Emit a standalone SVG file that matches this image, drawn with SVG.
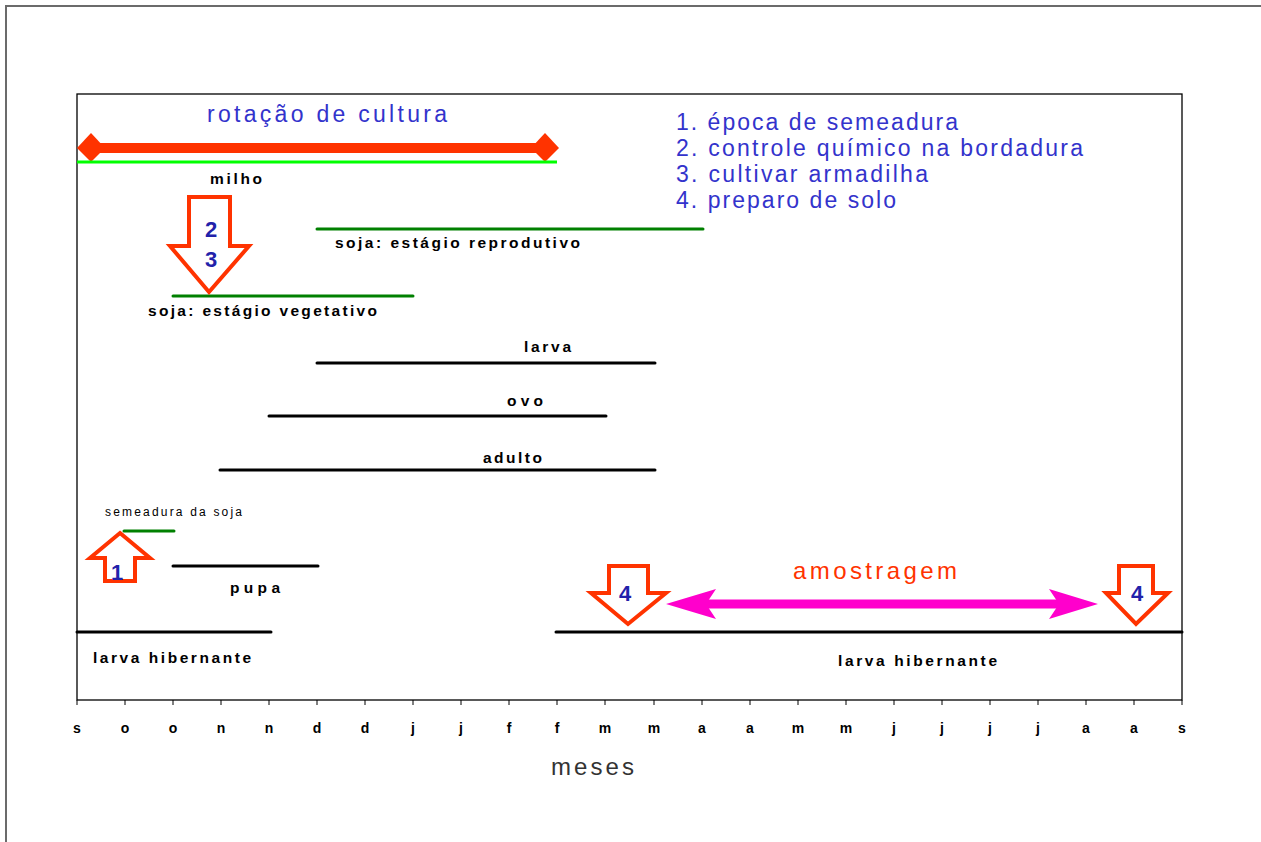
<svg xmlns="http://www.w3.org/2000/svg" width="1261" height="842" viewBox="0 0 1261 842">
<style>
.lbl{font-family:"Liberation Sans",Arial,sans-serif;font-weight:bold;font-size:15.5px;fill:#000}
.ax{font-family:"Liberation Sans",Arial,sans-serif;font-weight:bold;font-size:14px;fill:#000;text-anchor:middle}
.blue{font-family:"Liberation Sans",Arial,sans-serif;font-size:23px;fill:#3333CC}
.num{font-family:"Liberation Sans",Arial,sans-serif;font-weight:bold;font-size:22px;fill:#2222AA;text-anchor:middle}
.blk{stroke:#000;stroke-width:3;stroke-linecap:round}
.grn{stroke:#008000;stroke-width:3;stroke-linecap:round}
.arr{fill:#fff;stroke:#FF3300;stroke-width:4;stroke-linejoin:miter}
</style>
<rect x="0" y="0" width="1261" height="842" fill="#fff"/>
<g id="frame">
<path d="M6,842 V6 H1261" fill="none" stroke="#6b6b6b" stroke-width="2"/>
<rect x="77" y="94" width="1105" height="606" fill="none" stroke="#000" stroke-width="1.3"/>
</g>
<g id="axis">
<path d="M77,700 v5 M125,700 v5 M173,700 v5 M221,700 v5 M269,700 v5 M317,700 v5 M365,700 v5 M413,700 v5 M461,700 v5 M509,700 v5 M557,700 v5 M605,700 v5 M654,700 v5 M702,700 v5 M750,700 v5 M798,700 v5 M846,700 v5 M894,700 v5 M942,700 v5 M990,700 v5 M1038,700 v5 M1086,700 v5 M1134,700 v5 M1182,700 v5" stroke="#000" stroke-width="1"/>
<text class="ax" x="77" y="733">s</text>
<text class="ax" x="125" y="733">o</text>
<text class="ax" x="173" y="733">o</text>
<text class="ax" x="221" y="733">n</text>
<text class="ax" x="269" y="733">n</text>
<text class="ax" x="317" y="733">d</text>
<text class="ax" x="365" y="733">d</text>
<text class="ax" x="413" y="733">j</text>
<text class="ax" x="461" y="733">j</text>
<text class="ax" x="509" y="733">f</text>
<text class="ax" x="557" y="733">f</text>
<text class="ax" x="605" y="733">m</text>
<text class="ax" x="654" y="733">m</text>
<text class="ax" x="702" y="733">a</text>
<text class="ax" x="750" y="733">a</text>
<text class="ax" x="798" y="733">m</text>
<text class="ax" x="846" y="733">m</text>
<text class="ax" x="894" y="733">j</text>
<text class="ax" x="942" y="733">j</text>
<text class="ax" x="990" y="733">j</text>
<text class="ax" x="1038" y="733">j</text>
<text class="ax" x="1086" y="733">a</text>
<text class="ax" x="1134" y="733">a</text>
<text class="ax" x="1182" y="733">s</text>
<text x="551" y="775" font-family="Liberation Sans, Arial, sans-serif" font-size="24" fill="#333" textLength="83" lengthAdjust="spacing">meses</text>
</g>
<g id="rotacao">
<text class="blue" x="207" y="122" font-size="24" textLength="240" lengthAdjust="spacing">rotação de cultura</text>
<line x1="91" y1="148" x2="545" y2="148" stroke="#FF3300" stroke-width="10"/>
<polygon points="77,148 91,133 105,148 91,162" fill="#FF3300"/>
<polygon points="531,148 545,133 559,148 545,162" fill="#FF3300"/>
</g>
<g id="legend">
<text class="blue" x="676" y="130" textLength="282" lengthAdjust="spacing">1. época de semeadura</text>
<text class="blue" x="676" y="156" textLength="407" lengthAdjust="spacing">2. controle químico na bordadura</text>
<text class="blue" x="676" y="182" textLength="252" lengthAdjust="spacing">3. cultivar armadilha</text>
<text class="blue" x="676" y="208" textLength="220" lengthAdjust="spacing">4. preparo de solo</text>
</g>
<g id="connectors">
<line x1="77" y1="162" x2="557" y2="162" stroke="#00FF00" stroke-width="3"/>
<line class="grn" x1="317" y1="229" x2="703" y2="229"/>
<line class="grn" x1="173" y1="296" x2="413" y2="296"/>
<line class="blk" x1="317" y1="363" x2="655" y2="363"/>
<line class="blk" x1="269" y1="416" x2="606" y2="416"/>
<line class="blk" x1="220" y1="470" x2="655" y2="470"/>
<line class="grn" x1="124" y1="531" x2="174" y2="531"/>
<line class="blk" x1="173" y1="566" x2="318" y2="566"/>
<line class="blk" x1="77" y1="632" x2="271" y2="632"/>
<line class="blk" x1="556" y1="632" x2="1182" y2="632"/>
</g>
<g id="milho"><text class="lbl" x="210" y="184" textLength="52" lengthAdjust="spacing">milho</text></g>
<g id="soja-reprodutivo"><text class="lbl" x="335" y="248" textLength="245" lengthAdjust="spacing">soja: estágio reprodutivo</text></g>
<g id="soja-vegetativo"><text class="lbl" x="148" y="316" textLength="229" lengthAdjust="spacing">soja: estágio vegetativo</text></g>
<g id="larva"><text class="lbl" x="524" y="352" textLength="47" lengthAdjust="spacing">larva</text></g>
<g id="ovo"><text class="lbl" x="507" y="406" textLength="36" lengthAdjust="spacing">ovo</text></g>
<g id="adulto"><text class="lbl" x="483" y="463" textLength="59" lengthAdjust="spacing">adulto</text></g>
<g id="semeadura"><text x="105" y="516" font-family="Liberation Sans, Arial, sans-serif" font-size="12" fill="#000" textLength="137" lengthAdjust="spacing">semeadura da soja</text></g>
<g id="pupa"><text class="lbl" x="230" y="593" textLength="50" lengthAdjust="spacing">pupa</text></g>
<g id="larva-hib-1"><text class="lbl" x="93" y="663" textLength="158" lengthAdjust="spacing">larva hibernante</text></g>
<g id="larva-hib-2"><text class="lbl" x="838" y="666" textLength="159" lengthAdjust="spacing">larva hibernante</text></g>
<g id="arrow-23">
<polygon class="arr" points="189,197 230,197 230,246 249,246 209,292 170,246 189,246"/>
<text class="num" x="211" y="237">2</text>
<text class="num" x="211" y="267">3</text>
</g>
<g id="arrow-1">
<polygon class="arr" points="120,533 150,558 135,558 135,581 105,581 105,558 90,558"/>
<text class="num" x="117" y="580">1</text>
</g>
<g id="arrow-4a">
<polygon class="arr" points="609,566 648,566 648,593 666,593 628,624 591,593 609,593"/>
<text class="num" x="625" y="601">4</text>
</g>
<g id="arrow-4b">
<polygon class="arr" points="1119,566 1153,566 1153,593 1168,593 1136,624 1106,593 1119,593"/>
<text class="num" x="1137" y="601">4</text>
</g>
<g id="amostragem">
<text x="793" y="579" font-family="Liberation Sans, Arial, sans-serif" font-size="24" fill="#FF3300" textLength="164" lengthAdjust="spacing">amostragem</text>
<line x1="700" y1="604" x2="1065" y2="604" stroke="#FF00CC" stroke-width="9"/>
<polygon points="666,604 716,589 706,604 716,619" fill="#FF00CC"/>
<polygon points="1098,604 1049,589 1059,604 1049,619" fill="#FF00CC"/>
</g>
</svg>
